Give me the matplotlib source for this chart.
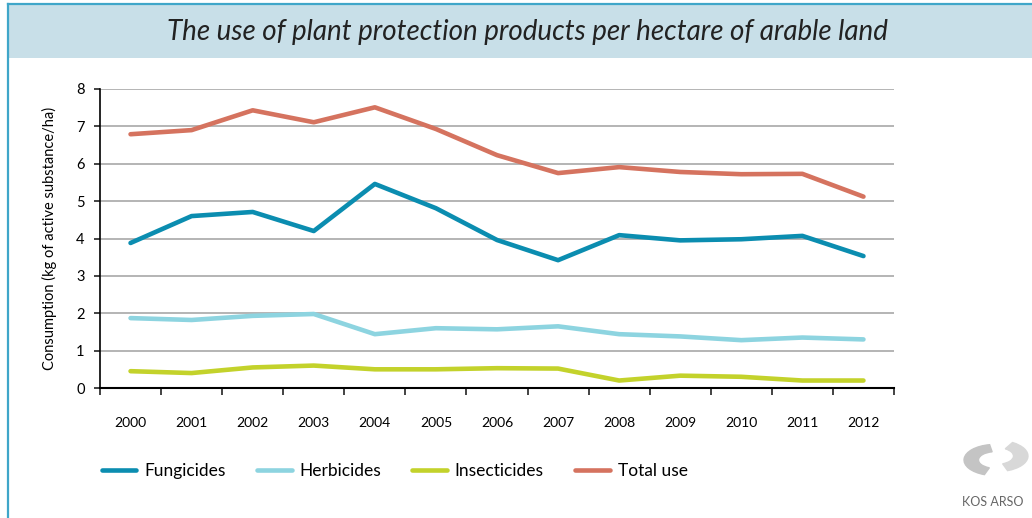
import matplotlib
matplotlib.use("Agg")
import matplotlib.pyplot as plt
from matplotlib.patches import Rectangle, Wedge
from matplotlib.lines import Line2D

plt.rcParams['font.family'] = ['Lato', 'DejaVu Sans']

years = ['2000', '2001', '2002', '2003', '2004', '2005', '2006',
         '2007', '2008', '2009', '2010', '2011', '2012']

fungicides = [3.88, 4.60, 4.71, 4.20, 5.46, 4.81, 3.96, 3.42, 4.09, 3.95, 3.98, 4.07, 3.53]
herbicides = [1.87, 1.82, 1.93, 1.98, 1.44, 1.60, 1.57, 1.65, 1.44, 1.38, 1.28, 1.35, 1.30]
insecticides = [0.45, 0.40, 0.55, 0.60, 0.50, 0.50, 0.53, 0.52, 0.20, 0.33, 0.30, 0.20, 0.20]
total_use = [6.79, 6.90, 7.43, 7.11, 7.51, 6.93, 6.23, 5.75, 5.91, 5.78, 5.72, 5.73, 5.12]

series = [('Fungicides', fungicides, '#0b8db0'),
          ('Herbicides', herbicides, '#8dd4e0'),
          ('Insecticides', insecticides, '#c3d22b'),
          ('Total use', total_use, '#d5735f')]

W, H = 1032, 518
fig = plt.figure(figsize=(W / 100, H / 100), dpi=100)
fig.patch.set_facecolor('white')

# frame and title band
fig.patches.append(Rectangle((9 / W, 1 - 58 / H), 1, 54 / H, transform=fig.transFigure,
                             facecolor='#c8dfe8', edgecolor='none', zorder=0))
fig.lines.append(Line2D([8 / W, 1], [1 - 4 / H, 1 - 4 / H], transform=fig.transFigure,
                        color='#3fa6c9', lw=1.6))
fig.lines.append(Line2D([8 / W, 8 / W], [0, 1 - 4 / H], transform=fig.transFigure,
                        color='#3fa6c9', lw=1.6))
fig.text(527 / W, 1 - 32 / H, 'The use of plant protection products per hectare of arable land',
         ha='center', va='center', fontsize=20, style='italic', weight='normal',
         color='#222222')

ax = fig.add_axes([100 / W, 1 - 388 / H, 794 / W, 299 / H])
x = list(range(len(years)))
for name, vals, col in series:
    ax.plot(x, vals, color=col, lw=3.3, solid_capstyle='round', solid_joinstyle='round',
            label=name, zorder=3)

ax.set_ylim(0, 8)
ax.set_xlim(-0.5, len(years) - 0.5)
ax.set_yticks(range(0, 9))
ax.set_xticks([i - 0.5 for i in range(len(years) + 1)])
ax.set_xticklabels([])
ax.set_xticks(x, minor=True)
ax.set_xticklabels(years, minor=True, fontsize=10)
ax.tick_params(axis='x', which='minor', length=0, pad=21)
ax.tick_params(axis='x', which='major', length=5, width=1.2, color='#222222')
ax.tick_params(axis='y', length=4, width=1.2, color='#222222', labelsize=10.5, pad=7)
ax.yaxis.grid(True, color='#a8a8a8', lw=1.2, zorder=0)
for s in ['top', 'right']:
    ax.spines[s].set_visible(False)
ax.spines['left'].set_linewidth(1.2)
ax.spines['bottom'].set_linewidth(1.5)
ax.set_ylabel('Consumption (kg of active substance/ha)', fontsize=10.5, labelpad=14)

fig.legend(loc='center left', bbox_to_anchor=(86 / W, 1 - 471 / H), ncol=4, frameon=False,
           handlelength=2.0, columnspacing=1.8, handletextpad=0.45,
           prop={'size': 12.5})

# logo
fig.patches.append(Wedge((995 / W, 1 - 460 / H), 0.03, 100, 250, width=0.014,
                         transform=fig.transFigure, color='#c4c4c4'))
fig.patches.append(Wedge((997 / W, 1 - 456 / H), 0.03, 290, 60, width=0.014,
                         transform=fig.transFigure, color='#d8d8d8'))
fig.text(993 / W, 1 - 502 / H, 'KOS ARSO', ha='center', va='center', fontsize=9,
         color='#666666')

fig.savefig('out.png', dpi=100)
